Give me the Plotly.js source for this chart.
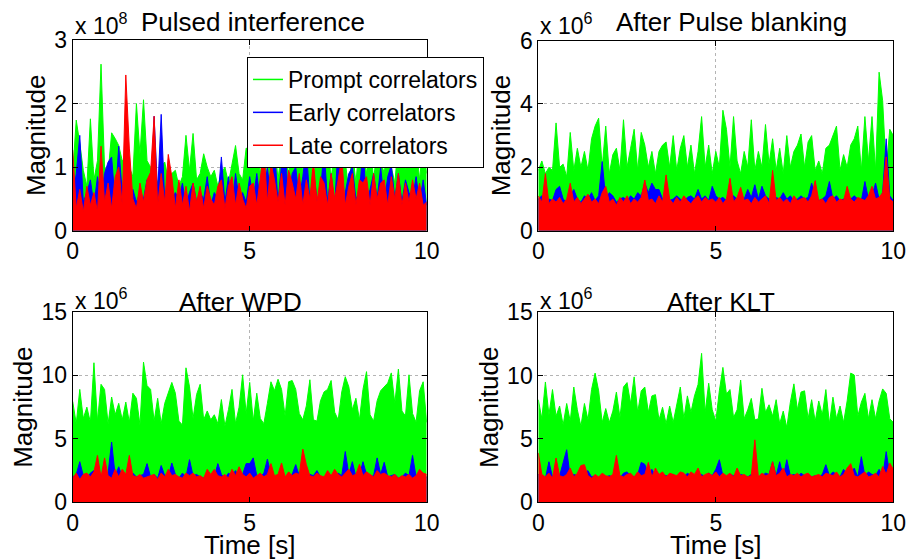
<!DOCTYPE html>
<html>
<head>
<meta charset="utf-8">
<script src="https://cdn.plot.ly/plotly-3.0.1.min.js"></script>
<style>html,body{margin:0;padding:0;background:#fff;}#chart{width:910px;height:560px;}</style>
</head>
<body>
<div id="chart"></div>
<script>
// ---------- data (in the axis units shown) ----------
const seriesNames = ["Prompt correlators", "Early correlators", "Late correlators"];
const seriesColors = ["#00ff00", "#0000ff", "#ff0000"];
const panelTitles = ["Pulsed interference", "After Pulse blanking", "After WPD", "After KLT"];
const panelExponents = [8, 6, 6, 6];
const panelYMax = [3, 6, 15, 15];
const panelYTicks = [[0, 1, 2, 3], [0, 2, 4, 6], [0, 5, 10, 15], [0, 5, 10, 15]];
const xTicks = [0, 5, 10];
const timeSpan = 10; // seconds

// Panel 1: Pulsed interference (x 1e8)
const p1Prompt = [0.9,1.74,1.37,0.95,0.7,1.76,0.8,1.1,2.62,1.0,
  0.9,1.54,1.45,1.34,1.1,1.16,1.0,0.85,2.0,1.2,
  2.06,1.1,1.0,0.9,0.75,1.0,1.08,0.8,0.9,0.95,
  0.7,0.85,1.5,0.95,1.53,0.8,0.9,1.21,1.0,0.85,
  0.95,0.7,0.9,1.0,0.75,1.05,1.34,0.9,0.8,1.3,
  1.26,1.16,1.3,0.9,1.4,0.75,1.4,1.45,0.8,1.3,
  1.5,0.85,1.4,1.1,1.4,0.9,1.45,1.35,0.7,1.4,
  1.2,1.1,1.45,0.8,1.35,1.0,1.4,1.1,0.6,1.3,
  0.75,1.4,1.2,0.9,1.45,0.8,1.3,1.1,0.9,1.4,
  1.0,0.75,1.4,1.2,0.95,1.45,1.0,1.35,0.8,1.4,0.9];
const p1Early = [0.5,0.9,1.5,0.45,0.6,0.8,0.4,0.85,0.5,0.9,
  1.08,1.16,0.45,1.33,0.6,1.16,0.5,0.65,0.45,0.6,
  0.5,0.8,0.4,1.8,0.6,1.83,0.45,0.8,0.5,0.6,
  0.5,0.75,0.4,0.6,0.75,0.45,0.6,0.5,0.85,0.4,
  0.6,0.5,1.16,0.45,0.85,0.4,0.9,0.5,0.6,0.45,
  0.85,0.5,0.9,0.45,0.6,1.0,0.5,1.3,0.45,1.05,
  1.3,0.45,0.9,1.0,0.5,0.85,1.3,0.45,0.95,0.5,
  0.6,1.3,0.45,0.9,0.4,1.35,0.5,0.6,0.9,1.0,
  0.5,0.6,1.3,0.45,0.65,0.9,0.5,1.0,0.45,0.85,
  1.03,0.5,0.9,0.45,0.8,0.6,0.5,0.85,0.45,0.8,0.4];
const p1Late = [1.27,0.35,0.65,0.3,0.7,0.4,0.6,0.3,1.33,0.45,
  0.75,0.35,0.85,1.0,0.4,2.45,1.3,0.5,0.35,0.75,
  0.45,0.8,0.92,1.8,0.4,0.9,0.45,1.2,0.85,0.35,
  0.8,0.4,0.7,0.3,0.75,0.45,0.7,0.35,0.7,0.5,
  0.4,0.7,0.8,0.35,0.7,0.85,0.4,0.75,0.5,0.35,
  0.7,0.75,0.4,0.85,1.26,0.45,1.05,0.8,0.45,0.9,
  0.4,0.95,0.75,0.5,0.9,0.4,0.8,0.5,1.1,0.45,
  0.85,0.75,0.4,0.9,0.5,0.8,1.15,0.4,0.7,0.9,
  0.4,0.8,0.75,0.85,0.4,0.9,0.5,0.75,0.8,0.4,
  0.85,0.5,0.9,0.4,0.75,0.45,0.8,0.5,0.75,0.4,0.45];

// Panel 2: After Pulse blanking (x 1e6)
const p2Prompt = [1.9,2.2,1.8,2.0,1.9,3.4,2.0,2.1,1.7,3.1,
  1.9,2.6,2.0,2.5,1.9,2.9,3.3,3.55,2.0,3.3,
  1.8,2.4,2.6,1.9,3.5,2.0,2.6,3.2,1.9,3.1,
  2.7,2.0,2.5,1.8,2.5,2.7,2.8,2.0,3.0,1.9,
  2.6,3.0,2.0,2.7,1.8,2.5,3.6,2.0,2.7,1.8,
  2.5,2.0,3.8,3.2,2.0,3.6,2.2,1.8,2.5,2.0,
  3.5,1.9,2.5,2.0,3.35,2.1,2.9,1.9,2.6,1.8,
  3.0,2.0,2.5,2.7,3.05,2.0,2.8,3.0,1.9,2.2,
  1.8,2.6,2.7,3.0,3.3,1.9,2.4,2.0,2.7,2.9,
  3.3,1.9,3.6,2.2,3.6,1.9,5.0,4.1,1.9,3.2,3.0];
const p2Early = [1.0,1.1,0.9,1.0,0.95,1.3,1.4,1.0,0.9,1.1,
  1.3,1.0,0.9,1.1,1.0,1.2,0.95,1.1,2.18,1.0,
  1.2,1.1,0.9,1.0,1.05,0.95,1.1,1.0,1.2,1.1,
  1.5,1.2,1.5,1.3,1.3,1.0,1.1,0.95,1.0,1.1,
  1.0,0.9,1.05,1.1,1.0,1.3,1.0,1.1,0.95,1.4,
  1.1,1.0,1.05,0.95,1.1,1.1,1.0,0.9,1.0,1.3,
  1.05,1.45,1.0,1.4,1.1,1.0,0.95,1.05,1.0,1.2,
  1.0,1.1,0.95,1.0,1.1,1.0,1.05,1.5,1.1,0.95,
  1.0,1.1,1.55,1.0,1.1,0.95,1.0,1.05,1.0,1.1,
  1.0,0.95,1.55,1.0,1.1,1.5,1.0,1.2,2.9,1.1,0.95];
const p2Late = [1.1,0.9,1.8,0.85,1.0,0.9,1.05,0.85,1.0,1.5,
  0.9,1.05,0.85,1.0,1.15,0.9,1.0,0.85,1.2,1.4,
  0.9,1.0,0.8,1.05,0.9,1.1,0.85,1.0,0.9,1.05,
  1.6,0.95,1.0,0.85,1.1,0.9,1.76,1.0,0.85,1.05,
  0.9,1.1,0.95,0.85,1.0,1.1,0.9,1.05,0.95,1.0,
  0.9,1.05,0.85,1.0,1.65,0.9,1.05,1.37,0.95,1.0,
  0.85,1.05,0.9,1.0,1.1,0.85,1.9,0.95,1.05,0.9,
  1.0,0.85,1.1,0.95,1.0,1.05,0.9,1.1,1.58,0.95,
  1.0,0.85,1.05,1.1,0.9,1.0,0.95,1.4,1.0,0.9,
  1.05,1.0,0.95,1.1,1.4,1.0,1.05,1.2,2.33,1.0,0.9];

// Panel 3: After WPD (x 1e6)
const p3Prompt = [7.95,6.2,8.9,6.6,7.5,6.3,11.0,6.4,9.3,8.9,
  6.2,8.3,6.9,7.8,6.5,7.9,6.3,8.6,8.2,6.1,
  11.05,9.2,8.9,6.4,8.2,6.2,7.8,8.7,9.45,8.6,
  6.4,6.1,10.6,9.1,6.6,8.5,9.3,6.5,7.2,6.5,
  6.9,6.2,8.1,6.0,7.3,8.9,6.2,7.5,10.05,7.0,
  9.45,6.4,8.6,6.6,6.2,7.8,9.5,8.8,9.7,8.9,
  6.8,9.5,9.6,8.9,7.0,6.5,7.6,9.66,6.5,6.4,
  8.0,8.7,8.9,9.6,7.1,6.5,8.7,9.9,9.1,7.3,
  8.2,6.5,8.9,10.3,6.9,6.4,8.0,8.8,9.1,9.4,
  10.2,7.8,10.5,7.2,6.8,10.05,7.0,6.3,8.8,9.5,6.3];
const p3Early = [2.0,2.2,3.2,2.1,1.9,2.3,2.5,2.0,2.2,1.9,
  2.3,4.75,2.1,2.8,2.0,2.2,1.9,2.3,2.0,2.1,
  2.2,3.05,2.0,2.2,1.9,2.9,2.1,2.0,3.1,2.2,
  1.9,2.3,2.0,3.36,2.1,2.2,2.0,1.9,2.3,2.1,
  2.0,3.05,2.2,1.9,2.3,2.1,2.5,2.0,2.2,3.05,
  3.05,3.5,2.1,2.0,2.3,3.4,2.2,2.0,2.1,2.3,
  1.9,2.0,2.2,2.97,2.1,2.4,2.0,2.2,2.1,2.5,
  2.0,1.9,2.2,2.1,2.0,2.3,2.1,4.0,2.2,3.2,
  2.0,2.1,3.2,2.2,2.0,2.1,3.5,2.2,3.15,2.0,
  2.1,2.2,1.9,2.0,2.3,2.1,3.7,2.0,2.5,2.1,2.0];
const p3Late = [1.9,2.3,1.8,2.2,2.3,2.0,2.4,3.7,2.0,3.5,
  2.1,1.9,2.6,2.0,2.6,2.2,3.7,2.1,2.0,2.2,
  1.9,2.0,2.1,2.2,1.8,2.3,2.0,2.6,2.1,2.2,
  2.0,1.9,2.3,2.1,2.3,2.0,2.1,1.9,2.6,2.2,
  2.6,2.1,2.0,2.2,1.9,2.6,2.1,2.8,2.2,2.0,
  2.3,1.9,2.1,2.3,2.0,2.2,3.05,2.1,2.2,3.1,
  2.0,2.4,2.1,2.3,2.2,4.2,2.97,2.1,2.0,2.3,
  2.1,2.0,2.5,2.1,2.6,2.2,2.0,2.3,2.6,2.1,
  2.2,3.0,2.1,2.4,2.2,2.0,2.5,2.2,2.3,2.1,
  2.0,2.2,1.9,2.1,2.0,2.2,1.9,2.1,2.6,2.3,2.2];

// Panel 4: After KLT (x 1e6)
const p4Prompt = [8.1,6.6,9.5,6.9,8.9,6.8,7.6,6.1,7.8,6.4,
  9.1,7.3,6.0,7.8,6.5,8.9,10.2,8.8,6.3,7.4,
  6.3,7.2,8.7,6.7,9.1,9.45,7.8,9.9,7.1,8.8,
  9.1,7.1,8.4,8.5,6.5,7.5,6.2,7.6,6.3,7.6,
  9.1,6.6,8.4,7.1,8.4,9.3,11.76,7.1,9.4,7.3,
  6.4,8.8,10.65,8.55,8.9,6.7,7.3,9.65,6.6,7.3,
  8.2,6.5,6.6,9.0,7.1,7.7,6.8,8.1,6.2,7.2,
  5.9,7.9,9.35,7.3,8.7,8.8,6.6,8.1,6.4,8.0,
  6.9,8.9,6.2,8.3,6.6,7.6,6.3,8.0,10.2,10.05,
  6.8,7.9,8.6,6.6,8.1,6.6,8.0,8.95,8.6,6.6,6.3];
const p4Early = [2.2,2.1,1.9,3.2,2.0,2.2,2.1,3.2,4.15,2.0,
  2.2,2.1,1.9,2.3,2.5,2.0,2.1,1.9,2.2,2.0,
  2.1,2.0,2.2,1.9,2.3,2.4,2.1,2.0,2.2,3.15,
  3.0,2.2,2.6,2.1,2.0,2.2,2.1,2.0,2.2,1.9,
  2.1,2.0,2.3,2.1,2.0,2.1,2.2,2.0,2.3,2.1,
  2.6,3.36,2.1,2.0,2.2,2.1,2.0,2.2,2.1,2.0,
  2.2,2.4,2.0,2.1,2.3,2.2,3.2,2.1,3.2,2.0,
  3.36,2.1,2.2,2.0,2.3,2.1,2.2,2.0,2.1,2.0,
  2.2,2.97,2.1,2.4,2.2,2.0,2.6,2.1,2.2,2.7,
  2.0,3.6,2.1,2.4,2.2,2.1,2.6,2.0,4.0,2.2,2.4];
const p4Late = [3.9,2.2,2.0,2.3,1.9,3.5,2.1,2.0,2.2,2.7,
  2.0,2.3,2.9,2.97,2.1,1.9,2.2,2.0,2.3,2.1,
  2.0,2.2,3.7,2.1,2.0,2.2,2.3,2.0,2.4,2.1,
  2.2,3.15,2.0,2.7,2.2,2.4,2.0,2.3,2.2,2.1,
  2.4,2.3,2.0,2.4,2.2,2.7,2.0,2.2,2.3,2.1,
  2.4,2.0,2.3,2.1,2.3,2.0,2.7,2.1,2.2,2.0,
  2.1,4.93,2.0,2.3,2.1,2.2,3.2,2.1,2.3,2.7,
  2.0,2.2,2.1,2.3,2.0,2.2,2.3,2.0,2.1,2.2,
  2.0,2.3,2.2,2.1,2.4,2.0,2.2,2.7,3.05,2.1,
  2.0,2.2,2.4,2.0,2.1,2.3,2.0,2.83,2.2,3.1,2.6];

const panels = [
  [p1Prompt, p1Early, p1Late],
  [p2Prompt, p2Early, p2Late],
  [p3Prompt, p3Early, p3Late],
  [p4Prompt, p4Early, p4Late]
];

// ---------- layout geometry ----------
const W = 910, H = 560;
const axBoxes = [ // [left, right, top, bottom] in px
  [72.7, 426.7, 40, 230.7],
  [538.3, 893.3, 40.5, 230.7],
  [72.7, 426.7, 312, 502.3],
  [538.3, 893.3, 312.3, 502.3]
];
const FONT = '"Liberation Sans", Arial, Helvetica, sans-serif';

function sampleTimes(n) {
  const out = [];
  for (let i = 0; i < n; i++) out.push(i * timeSpan / (n - 1));
  return out;
}

const traces = [];
panels.forEach((series, p) => {
  const xa = p === 0 ? 'x' : 'x' + (p + 1);
  const ya = p === 0 ? 'y' : 'y' + (p + 1);
  series.forEach((vals, s) => {
    traces.push({
      type: 'scatter', mode: 'lines',
      x: sampleTimes(vals.length), y: vals,
      xaxis: xa, yaxis: ya,
      line: {color: seriesColors[s], width: 1},
      fill: 'tozeroy', fillcolor: seriesColors[s],
      showlegend: false, hoverinfo: 'skip'
    });
  });
});
// legend entries (line symbols as in the original)
seriesNames.forEach((name, s) => {
  traces.push({
    type: 'scatter', mode: 'lines', name: name,
    x: [null], y: [null], xaxis: 'x', yaxis: 'y',
    line: {color: seriesColors[s], width: 1.5},
    showlegend: true
  });
});

const layout = {
  width: W, height: H,
  margin: {l: 0, r: 0, t: 0, b: 0},
  paper_bgcolor: '#ffffff', plot_bgcolor: '#ffffff',
  font: {family: FONT, color: '#000000', size: 23},
  showlegend: true,
  legend: {
    x: 247 / W, y: 1 - 57 / H, xanchor: 'left', yanchor: 'top',
    bgcolor: '#ffffff', bordercolor: '#000000', borderwidth: 1,
    font: {family: FONT, size: 23, color: '#000000'},
    tracegroupgap: 0, itemwidth: 30
  },
  annotations: []
};

axBoxes.forEach((b, p) => {
  const xk = p === 0 ? 'xaxis' : 'xaxis' + (p + 1);
  const yk = p === 0 ? 'yaxis' : 'yaxis' + (p + 1);
  const xid = p === 0 ? 'x' : 'x' + (p + 1);
  const yid = p === 0 ? 'y' : 'y' + (p + 1);
  const common = {
    showline: true, linecolor: '#000000', linewidth: 1, mirror: 'ticks',
    ticks: 'inside', ticklen: 5, tickcolor: '#000000', tickwidth: 1,
    showgrid: true, gridcolor: '#b4b4b4', griddash: 'dot', gridwidth: 1,
    zeroline: false, fixedrange: true,
    tickfont: {family: FONT, size: 23, color: '#000000'}
  };
  layout[xk] = Object.assign({}, common, {
    domain: [b[0] / W, b[1] / W], anchor: yid,
    range: [0, timeSpan], tickmode: 'array', tickvals: xTicks, ticktext: xTicks.map(String)
  });
  if (p >= 2) layout[xk].title = {text: 'Time [s]', font: {family: FONT, size: 26}, standoff: 4};
  layout[yk] = Object.assign({}, common, {
    domain: [1 - b[3] / H, 1 - b[2] / H], anchor: xid,
    range: [0, panelYMax[p]], tickmode: 'array', tickvals: panelYTicks[p], ticktext: panelYTicks[p].map(String),
    title: {text: 'Magnitude', font: {family: FONT, size: 26}, standoff: 1}
  });
});

// exponent labels and panel titles
const expPos = [[73, 41], [538, 41], [73, 316], [538, 316]];
const titlePos = [[253, 39.5], [731, 39.5], [240, 318.5], [721, 318.5]];
panelTitles.forEach((t, p) => {
  layout.annotations.push({
    xref: 'paper', yref: 'paper', x: expPos[p][0] / W, y: 1 - expPos[p][1] / H,
    xanchor: 'left', yanchor: 'bottom', showarrow: false,
    text: 'x 10<sup>' + panelExponents[p] + '</sup>',
    font: {family: FONT, size: 23, color: '#000000'}
  });
  layout.annotations.push({
    xref: 'paper', yref: 'paper', x: titlePos[p][0] / W, y: 1 - titlePos[p][1] / H,
    xanchor: 'center', yanchor: 'bottom', showarrow: false,
    text: t, font: {family: FONT, size: 26, color: '#000000'}
  });
});

Plotly.newPlot('chart', traces, layout, {staticPlot: true, displayModeBar: false});
</script>
</body>
</html>
